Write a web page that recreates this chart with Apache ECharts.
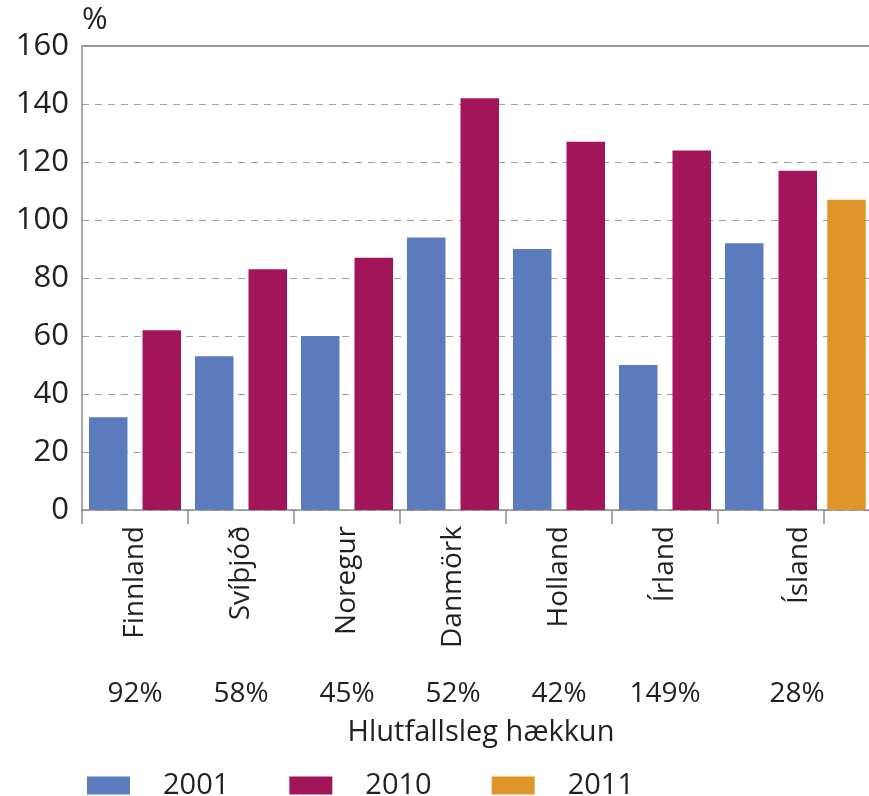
<!DOCTYPE html>
<html>
<head>
<meta charset="utf-8">
<script src="https://cdn.jsdelivr.net/npm/echarts@6/dist/echarts.min.js"></script>
<style>
html,body{margin:0;padding:0;background:#fff;}
#chart{width:869px;height:796px;}
</style>
</head>
<body>
<div id="chart"></div>
<script>
const categories = ['Finnland', 'Svíþjóð', 'Noregur', 'Danmörk', 'Holland', 'Írland', 'Ísland'];
const pctLabels = ['92%', '58%', '45%', '52%', '42%', '149%', '28%'];
const values2001 = [32, 53, 60, 94, 90, 50, 92];
const values2010 = [62, 83, 87, 142, 127, 124, 117];
const values2011 = [107];
const yTicks = { min: 0, max: 160, interval: 20 };
const subtitle = 'Hlutfallsleg hækkun';

const FONT = 'Open Sans';
const TXT = '#231f20';
const AXC = '#8c8c8c';
const C1 = '#5b7bbd', C2 = '#a3155b', C3 = '#e0952b';

const chart = echarts.init(document.getElementById('chart'), null, {renderer: 'canvas'});
const last = categories.length - 1;

chart.setOption({
  animation: false,
  backgroundColor: '#fff',
  textStyle: {fontFamily: FONT, color: TXT},
  grid: [
    {left: 82, top: 46, width: 742, height: 464},
    {left: 824, top: 46, width: 54.5, height: 464}
  ],
  title: {
    text: subtitle, left: 476, top: 713, textAlign: 'center',
    textStyle: {fontFamily: FONT, fontSize: 29, fontWeight: 'normal', color: TXT}
  },
  legend: {
    left: 82, top: 766, itemWidth: 43, itemHeight: 18, itemGap: 60,
    icon: 'rect',
    data: ['2001', '2010', '2011'],
    textStyle: {fontFamily: FONT, fontSize: 29, color: TXT, padding: [0, 0, 0, 28]}
  },
  xAxis: [
    {
      gridIndex: 0, type: 'category', data: categories, position: 'bottom',
      axisLine: {show: true, lineStyle: {color: AXC, width: 1.5}},
      axisTick: {show: true, length: 14, lineStyle: {color: AXC, width: 1.5}},
      axisLabel: {
        interval: 0, rotate: 90, margin: 16, fontFamily: FONT, fontSize: 28, color: TXT,
        formatter: (v, i) => i === last ? '{s|' + v + '}' : v,
        rich: {s: {fontFamily: FONT, fontSize: 28, color: TXT, padding: [56, 0, 0, 0]}}
      }
    },
    {
      gridIndex: 0, type: 'category', data: pctLabels, position: 'bottom', offset: 162,
      axisLine: {show: false}, axisTick: {show: false},
      axisLabel: {
        interval: 0, margin: 8, fontFamily: FONT, fontSize: 28, color: TXT,
        formatter: (v, i) => i === last ? '{s|' + v + '}' : v,
        rich: {s: {fontFamily: FONT, fontSize: 28, color: TXT, padding: [0, 0, 0, 52]}}
      }
    },
    {
      gridIndex: 0, type: 'category', data: categories, position: 'top',
      axisLine: {show: true, lineStyle: {color: '#9a9a9a', width: 2}},
      axisTick: {show: false}, axisLabel: {show: false}
    },
    {
      gridIndex: 1, type: 'category', data: [categories[last]], position: 'bottom',
      axisLine: {show: true, lineStyle: {color: AXC, width: 1.5}},
      axisTick: {show: false}, axisLabel: {show: false}
    },
    {
      gridIndex: 1, type: 'category', data: [categories[last]], position: 'top',
      axisLine: {show: true, lineStyle: {color: '#9a9a9a', width: 2}},
      axisTick: {show: false}, axisLabel: {show: false}
    }
  ],
  yAxis: [
    {
      gridIndex: 0, type: 'value', min: yTicks.min, max: yTicks.max, interval: yTicks.interval,
      name: '%', nameLocation: 'end', nameGap: 10,
      nameTextStyle: {fontFamily: FONT, fontSize: 31, color: TXT, align: 'left', verticalAlign: 'bottom'},
      axisLine: {show: true, lineStyle: {color: AXC, width: 1.5}},
      axisTick: {show: false},
      axisLabel: {margin: 13, fontFamily: FONT, fontSize: 31, color: TXT},
      splitLine: {show: true, lineStyle: {color: '#a0a0a0', type: [7, 6], width: 1.2}}
    },
    {
      gridIndex: 1, type: 'value', min: yTicks.min, max: yTicks.max, interval: yTicks.interval,
      axisLine: {show: false}, axisTick: {show: false}, axisLabel: {show: false},
      splitLine: {show: true, lineStyle: {color: '#a0a0a0', type: [7, 6], width: 1.2}}
    }
  ],
  series: [
    {name: '2001', type: 'bar', xAxisIndex: 0, yAxisIndex: 0, data: values2001,
     barWidth: 38.5, barGap: '39%', itemStyle: {color: C1}},
    {name: '2010', type: 'bar', xAxisIndex: 0, yAxisIndex: 0, data: values2010,
     barWidth: 38.5, barGap: '39%', itemStyle: {color: C2}},
    {name: '2011', type: 'bar', xAxisIndex: 3, yAxisIndex: 1, data: values2011,
     barWidth: 38.5, itemStyle: {color: C3}}
  ]
});
</script>
</body>
</html>
